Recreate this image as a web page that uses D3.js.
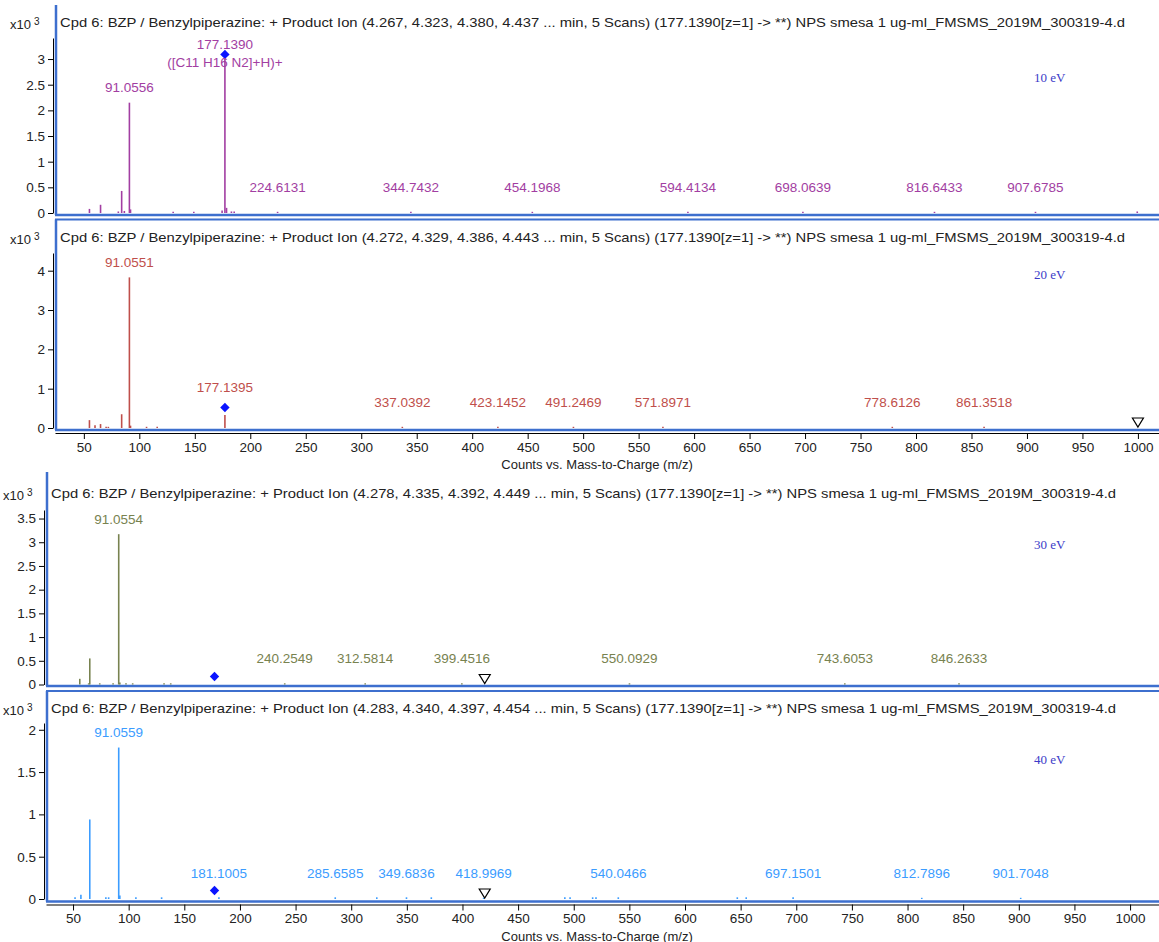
<!DOCTYPE html>
<html>
<head>
<meta charset="utf-8">
<title>BZP product ion spectra</title>
<script src="https://cdn.jsdelivr.net/npm/d3@7"></script>
<style>
  body { margin: 0; background: #fff; }
  svg { display: block; font-family: "Liberation Sans", Arial, sans-serif; }
  .tick text { font-size: 13.5px; fill: #222; }
  .tick line, .domain { stroke: #000; }
  .title { font-size: 13px; fill: #222; }
  .ev { font-family: "Liberation Serif", "Times New Roman", serif; font-size: 13px; fill: #3b3bc8; }
  .frame { stroke: #3d6fce; fill: none; }
</style>
</head>
<body>
<svg width="1159" height="942"></svg>
<script>
// ---- data (intensities in counts x10^3) ----
var energies = ["10 eV", "20 eV", "30 eV", "40 eV"]
var scanTimes = ["4.267, 4.323, 4.380, 4.437", "4.272, 4.329, 4.386, 4.443",
                 "4.278, 4.335, 4.392, 4.449", "4.283, 4.340, 4.397, 4.454"]

var mz10 = [55.05, 65.05, 81.07, 84.08, 86.5, 91.0556, 92.06, 130.5, 149.1, 174.6, 177.139, 178.6, 183.0, 185.5,
            224.6131, 344.7432, 454.1968, 594.4134, 698.0639, 816.6433, 907.6785, 999.4]
var int10 = [0.08, 0.16, 0.03, 0.43, 0.04, 2.15, 0.07, 0.02, 0.02, 0.05, 3.07, 0.1, 0.03, 0.03,
             0.02, 0.01, 0.02, 0.01, 0.01, 0.01, 0.01, 0.03]
var labels10 = ["91.0556", "177.1390", "224.6131", "344.7432", "454.1968", "594.4134", "698.0639", "816.6433", "907.6785"]

var mz20 = [55.05, 60.06, 65.04, 70.07, 72.08, 84.08, 91.0551, 92.06, 106.5, 116.1, 177.1395,
            337.0392, 423.1452, 491.2469, 571.8971, 778.6126, 861.3518]
var int20 = [0.2, 0.07, 0.1, 0.03, 0.03, 0.35, 3.83, 0.06, 0.02, 0.02, 0.33,
             0.01, 0.01, 0.01, 0.01, 0.02, 0.01]
var labels20 = ["91.0551", "177.1395", "337.0392", "423.1452", "491.2469", "571.8971", "778.6126", "861.3518"]

var mz30 = [56.05, 64.05, 65.04, 74.0, 86.0, 91.0554, 92.06, 97.6, 103.6, 131.8, 137.8,
            240.2549, 312.5814, 399.4516, 550.0929, 743.6053, 846.2633]
var int30 = [0.12, 0.02, 0.55, 0.02, 0.02, 3.17, 0.04, 0.02, 0.02, 0.02, 0.02,
             0.01, 0.01, 0.01, 0.01, 0.02, 0.01]
var labels30 = ["91.0554", "240.2549", "312.5814", "399.4516", "550.0929", "743.6053", "846.2633"]

var mz40 = [51.8, 57.07, 65.04, 79.5, 82.0, 91.0559, 92.06, 106.5, 129.6, 181.1005, 285.6585, 323.0,
            349.6836, 372.0, 418.9969, 492.0, 496.7, 517.0, 520.0, 540.0466, 647.0, 655.0, 697.1501, 812.7896, 901.7048]
var int40 = [0.02, 0.05, 0.94, 0.02, 0.02, 1.79, 0.04, 0.02, 0.02, 0.02, 0.02, 0.02,
             0.02, 0.02, 0.01, 0.02, 0.02, 0.02, 0.02, 0.02, 0.02, 0.02, 0.02, 0.01, 0.01]
var labels40 = ["91.0559", "181.1005", "285.6585", "349.6836", "418.9969", "540.0466", "697.1501", "812.7896", "901.7048"]

var precursorMz = 177.139
var precursorLevel = [3.09, 0.52, 0.17, 0.1]   // blue diamond
var triangleMz = [null, 1000, 420, 420]        // open triangle marker
var formula = "([C11 H16 N2]+H)+"
var xTicks = d3.range(50, 1001, 50)

var peakColors = ["#a23ea2", "#bf4f4b", "#78824f", "#3b9cff"]

// ---- layout ----
var svg = d3.select("svg")

var xTop = d3.scaleLinear().domain([24, 1019]).range([55, 1159])
var xBot = d3.scaleLinear().domain([25.7, 1026]).range([46, 1159])

var panes = [
  { mz: mz10, ints: int10, labels: labels10, x: xTop, top: 5, bottom: 215, left: 55, hasTop: false,
    y0: 213, yTop: 38, yMax: 3.41, ticks: d3.range(0, 3.01, 0.5), titleX: 60, titleY: 27, expX: 10, evY: 82 },
  { mz: mz20, ints: int20, labels: labels20, x: xTop, top: 219.5, bottom: 430, left: 55, hasTop: true,
    y0: 428, yTop: 253, yMax: 4.45, ticks: d3.range(0, 4.01, 1), titleX: 60, titleY: 242, expX: 10, evY: 279, xAxis: true },
  { mz: mz30, ints: int30, labels: labels30, x: xBot, top: 472, bottom: 686, left: 46, hasTop: false,
    y0: 684.5, yTop: 510, yMax: 3.68, ticks: d3.range(0, 3.51, 0.5), titleX: 51, titleY: 498, expX: 3, evY: 549 },
  { mz: mz40, ints: int40, labels: labels40, x: xBot, top: 691, bottom: 901.5, left: 46, hasTop: true,
    y0: 899, yTop: 723, yMax: 2.08, ticks: d3.range(0, 2.01, 0.5), titleX: 51, titleY: 713, expX: 3, evY: 764, xAxis: true }
]

panes.forEach(function(p, i) {
  var g = svg.append("g")
  var x = p.x
  var y = d3.scaleLinear().domain([0, p.yMax]).range([p.y0, p.yTop])
  var color = peakColors[i]

  // blue pane frame
  g.append("line").attr("class", "frame").attr("stroke-width", 2.5)
    .attr("x1", p.left + 1).attr("x2", p.left + 1).attr("y1", p.top).attr("y2", p.bottom)
  g.append("line").attr("class", "frame").attr("stroke-width", 2.5)
    .attr("x1", p.left).attr("x2", 1159).attr("y1", p.bottom).attr("y2", p.bottom)
  if (p.hasTop) {
    g.append("line").attr("class", "frame").attr("stroke-width", 2)
      .attr("x1", p.left).attr("x2", 1159).attr("y1", p.top).attr("y2", p.top)
  }

  // y axis
  g.append("g")
    .attr("transform", "translate(" + (p.left - 2) + ",0)")
    .call(d3.axisLeft(y).tickValues(p.ticks).tickFormat(d3.format("")).tickSize(5).tickPadding(3).tickSizeOuter(0))

  // x10^3
  var exp = g.append("text").attr("x", p.expX).attr("y", p.titleY + 2).style("font-size", "13px").style("fill", "#222")
  exp.append("tspan").text("x10")
  exp.append("tspan").attr("dx", 3).attr("dy", -4).style("font-size", "10px").text("3")

  // title
  g.append("text").attr("class", "title")
    .attr("x", p.titleX).attr("y", p.titleY)
    .attr("textLength", 1065).attr("lengthAdjust", "spacingAndGlyphs")
    .text("Cpd 6: BZP / Benzylpiperazine: + Product Ion (" + scanTimes[i] +
          " ... min, 5 Scans) (177.1390[z=1] -> **) NPS smesa 1 ug-ml_FMSMS_2019M_300319-4.d")

  g.append("text").attr("class", "ev").attr("x", 1034).attr("y", p.evY).text(energies[i])

  // peaks
  var peaks = p.mz.map(function(m, k) { return { mz: m, v: p.ints[k] } })
  g.selectAll("line.peak").data(peaks).enter().append("line")
    .attr("class", "peak")
    .attr("x1", function(d) { return x(d.mz) }).attr("x2", function(d) { return x(d.mz) })
    .attr("y1", p.y0).attr("y2", function(d) { return Math.min(y(d.v), p.y0 - 1.2) })
    .attr("stroke", color).attr("stroke-width", 1.6)

  // precursor diamond
  var dy = y(precursorLevel[i])
  g.append("path")
    .attr("d", d3.symbol(d3.symbolSquare, 44)())
    .attr("transform", "translate(" + x(precursorMz) + "," + dy + ") rotate(45)")
    .attr("fill", "#0a14ff")

  // open triangle
  if (triangleMz[i] != null) {
    var tx = x(triangleMz[i])
    g.append("path")
      .attr("d", "M" + (tx - 5.5) + "," + (p.y0 - 10) + "L" + (tx + 5.5) + "," + (p.y0 - 10) + "L" + tx + "," + (p.y0 - 1) + "Z")
      .attr("fill", "#fff").attr("stroke", "#000").attr("stroke-width", 1.2)
  }

  // peak labels
  p.labels.forEach(function(lab) {
    var m = +lab
    var k = p.mz.findIndex(function(v) { return Math.abs(v - m) < 0.01 })
    var v = k >= 0 ? p.ints[k] : 0
    var cy = Math.min(y(v) - 15, p.y0 - 26)
    var isPre = Math.abs(m - precursorMz) < 0.05
    if (isPre) cy = Math.min(cy, dy - 20)
    if (isPre && i === 0) cy = dy - 10
    g.append("text")
      .attr("x", x(m)).attr("y", cy).attr("dy", "0.35em")
      .attr("text-anchor", "middle")
      .style("font-size", "13.5px").style("fill", color)
      .text(lab)
    if (isPre && i === 0) {
      g.append("text")
        .attr("x", x(m)).attr("y", dy + 8).attr("dy", "0.35em")
        .attr("text-anchor", "middle")
        .style("font-size", "13.5px").style("fill", color)
        .text(formula)
    }
  })

  // x axis
  if (p.xAxis) {
    g.append("g")
      .attr("transform", "translate(0," + (p.bottom + 3) + ")")
      .call(d3.axisBottom(x).tickValues(xTicks).tickFormat(d3.format("d")).tickSize(6).tickPadding(3).tickSizeOuter(0))
    g.append("text")
      .attr("x", 597).attr("y", p.bottom + 39)
      .attr("text-anchor", "middle")
      .style("font-size", "13px").style("fill", "#222")
      .text("Counts vs. Mass-to-Charge (m/z)")
  }
})
</script>
</body>
</html>
